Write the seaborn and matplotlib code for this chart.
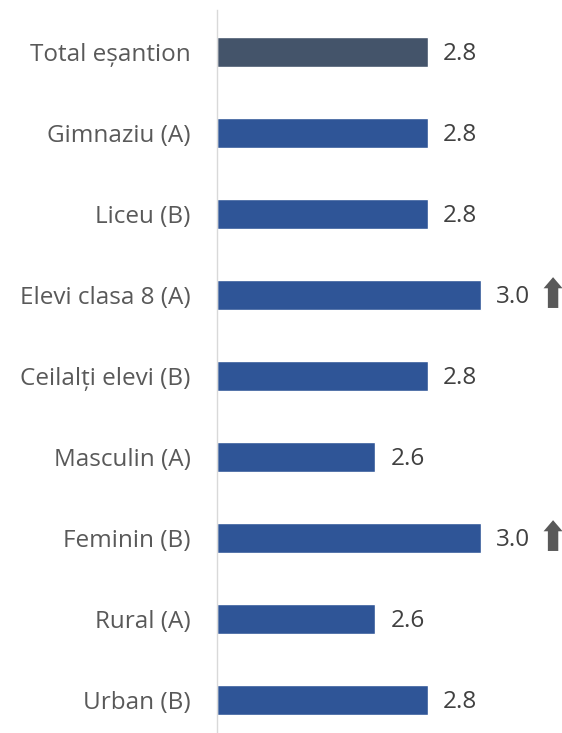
import matplotlib
matplotlib.use('Agg')
import matplotlib.pyplot as plt
import seaborn as sns
import pandas as pd

categories = ['Total eșantion', 'Gimnaziu (A)', 'Liceu (B)', 'Elevi clasa 8 (A)',
              'Ceilalți elevi (B)', 'Masculin (A)', 'Feminin (B)', 'Rural (A)', 'Urban (B)']
values = [2.8, 2.8, 2.8, 3.0, 2.8, 2.6, 3.0, 2.6, 2.8]
increase = [False, False, False, True, False, False, True, False, False]
colors = ['#44546A'] + ['#2F5597'] * 8

df = pd.DataFrame({'cat': categories, 'val': values})

sns.set_style('white')
plt.rcParams['font.family'] = ['Open Sans', 'DejaVu Sans']

fig = plt.figure(figsize=(5.62, 7.33), dpi=100)
ax = fig.add_axes([217 / 562, 0, 345 / 562, 723 / 733])

base = 2.0
sns.barplot(data=df, y='cat', x='val', hue='cat', palette=colors, legend=False,
            width=0.36, saturation=1, ax=ax, orient='h')
# bars start at the axis minimum
for p, v in zip(ax.patches, values):
    p.set_x(base)
    p.set_width(v - base)

ax.set_xlim(base, base + 345 / 264)
ax.set_ylim(8 + 33 / 81, -42 / 81)

for i, (v, up) in enumerate(zip(values, increase)):
    ax.text(v + 0.057, i + 0.02, f'{v:.1f}', va='center', ha='left', fontsize=17.5, color='#404040')
    if up:
        ax.annotate('', xy=(v + 0.273, i - 0.22), xytext=(v + 0.273, i + 0.16),
                    arrowprops=dict(arrowstyle='simple,head_width=1.37,head_length=0.8,tail_width=0.75',
                                    color='#595959', lw=0, shrinkA=0, shrinkB=0))

ax.set_xlabel('')
ax.set_ylabel('')
ax.set_xticks([])
ax.tick_params(axis='y', length=0, pad=19, labelsize=17.5, labelcolor='#595959')
for s in ['top', 'right', 'bottom']:
    ax.spines[s].set_visible(False)
ax.spines['left'].set_color('#D9D9D9')
ax.spines['left'].set_linewidth(1)

fig.savefig('out.png', dpi=100)
